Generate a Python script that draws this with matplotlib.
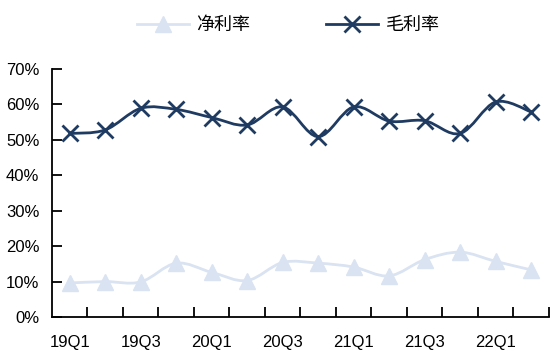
import matplotlib
matplotlib.use("Agg")
import matplotlib.pyplot as plt
import numpy as np
from matplotlib.path import Path
from matplotlib.patches import PathPatch
from matplotlib.lines import Line2D

plt.rcParams['font.family'] = ['Liberation Sans', 'Noto Sans CJK SC', 'DejaVu Sans']

quarters = ['19Q1', '19Q2', '19Q3', '19Q4', '20Q1', '20Q2', '20Q3', '20Q4',
            '21Q1', '21Q2', '21Q3', '21Q4', '22Q1', '22Q2']
net_margin = [9.6, 10.0, 9.9, 15.2, 12.6, 10.3, 15.4, 15.2, 14.1, 11.6, 16.2, 18.3, 15.7, 13.3]
gross_margin = [51.8, 52.8, 58.9, 58.6, 56.3, 54.2, 59.3, 50.9, 59.3, 55.3, 55.4, 51.8, 60.7, 57.9]

NET_COLOR = '#dae3f1'
GROSS_COLOR = '#1f3b61'


def smooth_path(x, y, tension=0.5):
    """Bezier path through the points, like an Excel smoothed line."""
    x = np.asarray(x, float)
    y = np.asarray(y, float)
    verts = [(x[0], y[0])]
    codes = [Path.MOVETO]
    n = len(x)
    for i in range(n - 1):
        i0 = max(i - 1, 0)
        i3 = min(i + 2, n - 1)
        c1 = (x[i] + (x[i + 1] - x[i0]) * tension / 3, y[i] + (y[i + 1] - y[i0]) * tension / 3)
        c2 = (x[i + 1] - (x[i3] - x[i]) * tension / 3, y[i + 1] - (y[i3] - y[i]) * tension / 3)
        verts += [c1, c2, (x[i + 1], y[i + 1])]
        codes += [Path.CURVE4] * 3
    return Path(verts, codes)


fig = plt.figure(figsize=(5.5, 3.52), dpi=100)
ax = fig.add_axes([0.0945, 0.0994, 0.9035, 0.7046])

x = np.arange(len(quarters))
ax.add_patch(PathPatch(smooth_path(x, net_margin), facecolor='none',
                       edgecolor=NET_COLOR, lw=2.0, zorder=2))
ax.plot(x, net_margin, ls='none', marker='^', ms=12, color=NET_COLOR, zorder=3)
ax.add_patch(PathPatch(smooth_path(x, gross_margin), facecolor='none',
                       edgecolor=GROSS_COLOR, lw=2.0, zorder=4))
ax.plot(x, gross_margin, ls='none', marker='x', ms=11, mew=2.0, color=GROSS_COLOR, zorder=5)

ax.set_xlim(-0.5, len(quarters) - 0.5)
ax.set_ylim(0, 70)
ax.set_yticks(range(0, 71, 10))
ax.set_yticklabels([f'{v}%' for v in range(0, 71, 10)], fontsize=12)

ax.set_xticks(np.arange(0.5, len(quarters), 1))
ax.set_xticklabels([])
ax.set_xticks(x[::2], minor=True)
ax.set_xticklabels(quarters[::2], minor=True, fontsize=12)
ax.tick_params(axis='x', which='major', direction='in', length=7, width=1.3)
ax.tick_params(axis='x', which='minor', length=0, pad=13)
ax.tick_params(axis='y', direction='in', length=7, width=1.3, pad=9)

for side in ['top', 'right']:
    ax.spines[side].set_visible(False)
for side in ['left', 'bottom']:
    ax.spines[side].set_linewidth(1.3)

handles = [Line2D([], [], color=NET_COLOR, lw=2.0, marker='^', ms=12),
           Line2D([], [], color=GROSS_COLOR, lw=2.0, marker='x', ms=11, mew=2.0)]
fig.legend(handles, ['净利率', '毛利率'], loc='upper center', bbox_to_anchor=(0.524, 1.0),
           ncol=2, frameon=False, prop={'family': ['Noto Sans CJK SC', 'DejaVu Sans'], 'size': 13},
           handlelength=2.9, columnspacing=4.2, handletextpad=0.4)

fig.savefig('out.png', dpi=100)
